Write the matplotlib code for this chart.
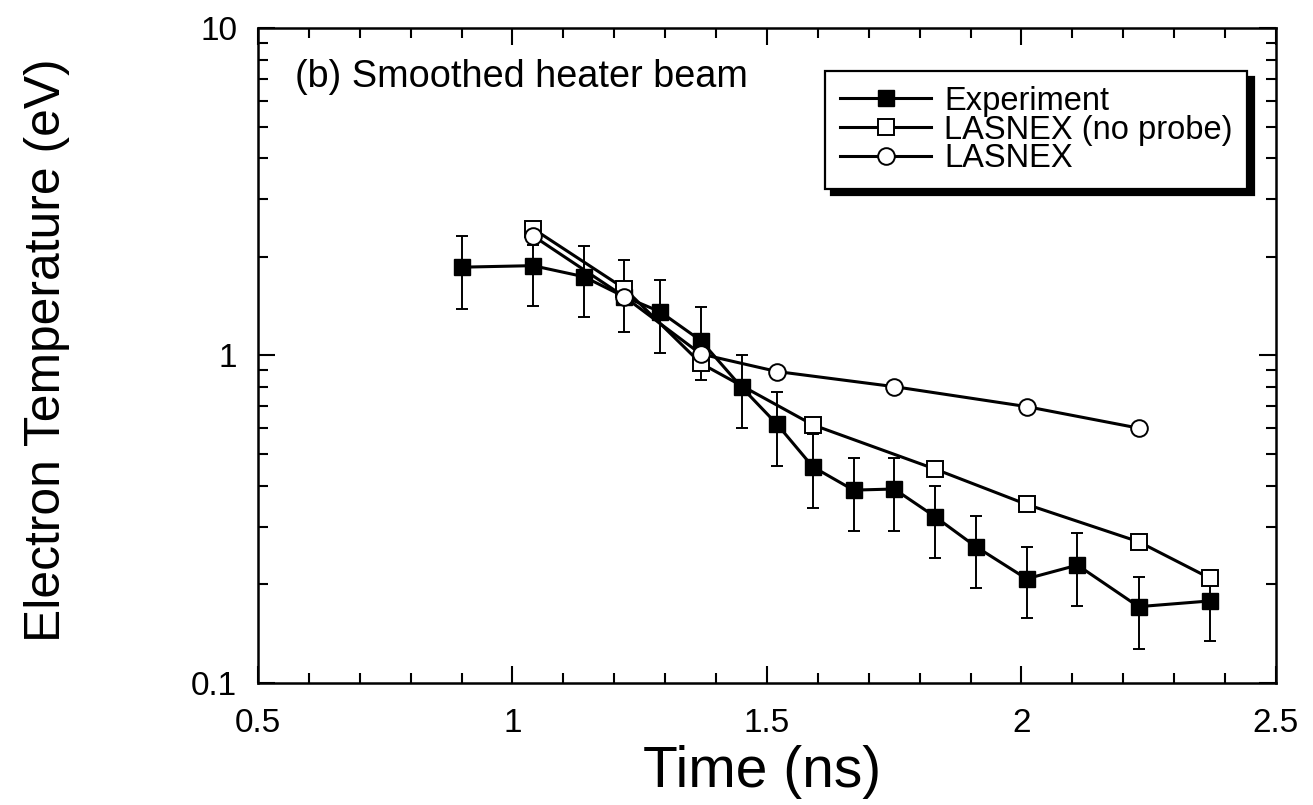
import matplotlib
matplotlib.use("Agg")
import matplotlib.pyplot as plt
from matplotlib.patches import Shadow
from matplotlib.ticker import FixedLocator, MultipleLocator, NullFormatter

plt.rcParams['font.family'] = ['Liberation Sans', 'DejaVu Sans']

# --- data ---
t_exp = [0.90, 1.04, 1.14, 1.22, 1.29, 1.37, 1.45, 1.52, 1.59, 1.67, 1.75,
         1.83, 1.91, 2.01, 2.11, 2.23, 2.37]
te_exp = [1.86, 1.88, 1.74, 1.51, 1.36, 1.11, 0.80, 0.616, 0.457, 0.388, 0.391,
          0.322, 0.261, 0.208, 0.229, 0.171, 0.178]
te_exp_hi = [2.32, 2.17, 2.16, 1.96, 1.70, 1.41, 1.00, 0.775, 0.574, 0.485, 0.487,
             0.400, 0.324, 0.261, 0.286, 0.210, 0.221]
te_exp_lo = [1.39, 1.42, 1.31, 1.18, 1.02, 0.84, 0.60, 0.46, 0.341, 0.291, 0.292,
             0.240, 0.195, 0.158, 0.172, 0.127, 0.134]

t_noprobe = [1.04, 1.22, 1.37, 1.59, 1.83, 2.01, 2.23, 2.37]
te_noprobe = [2.44, 1.60, 0.946, 0.614, 0.450, 0.351, 0.270, 0.209]

t_lasnex = [1.04, 1.22, 1.37, 1.52, 1.75, 2.01, 2.23]
te_lasnex = [2.32, 1.51, 1.01, 0.893, 0.803, 0.698, 0.600]

x_ticks = [0.5, 1.0, 1.5, 2.0, 2.5]
x_ticklabels = ['0.5', '1', '1.5', '2', '2.5']
y_ticks = [0.1, 1, 10]
y_ticklabels = ['0.1', '1', '10']

fig = plt.figure(figsize=(13.13, 8.05), dpi=100)
ax = fig.add_axes([0.1965, 0.1516, 0.7753, 0.8137])

# experiment: error bars plus filled squares
yerr = [[v - lo for v, lo in zip(te_exp, te_exp_lo)],
        [hi - v for v, hi in zip(te_exp, te_exp_hi)]]
ax.errorbar(t_exp, te_exp, yerr=yerr, fmt='none', ecolor='black',
            elinewidth=1.4, capsize=4.3, capthick=1.4, zorder=2)
ax.plot(t_exp, te_exp, '-', color='black', lw=2.2, marker='s', ms=11.5,
        mfc='black', mec='black', label='Experiment', zorder=3)
ax.plot(t_noprobe, te_noprobe, '-', color='black', lw=2.2, marker='s', ms=11,
        mfc='white', mec='black', mew=1.4, label='LASNEX (no probe)', zorder=4)
ax.plot(t_lasnex, te_lasnex, '-', color='black', lw=2.2, marker='o', ms=12,
        mfc='white', mec='black', mew=1.4, label='LASNEX', zorder=5)

ax.set_yscale('log')
ax.set_xlim(0.5, 2.5)
ax.set_ylim(0.1, 10)

ax.xaxis.set_major_locator(FixedLocator(x_ticks))
ax.set_xticklabels(x_ticklabels)
ax.xaxis.set_minor_locator(MultipleLocator(0.1))
ax.yaxis.set_major_locator(FixedLocator(y_ticks))
ax.set_yticklabels(y_ticklabels)
ax.yaxis.set_minor_locator(FixedLocator([m * d for d in (0.1, 1) for m in range(2, 10)]))
ax.yaxis.set_minor_formatter(NullFormatter())

ax.tick_params(which='both', direction='in', top=True, right=True, width=1.5,
               labelsize=24)
ax.tick_params(which='major', length=12)
ax.tick_params(which='minor', length=7)
ax.tick_params(axis='x', pad=18)
ax.tick_params(axis='y', pad=15)
for s in ax.spines.values():
    s.set_linewidth(1.8)

ax.set_xlabel('Time (ns)', fontsize=41)
ax.xaxis.set_label_coords(0.495, -0.094)
ax.set_ylabel('Electron Temperature (eV)', fontsize=35.8)
ax.yaxis.set_label_coords(-0.185, 0.508)

ax.text(0.036, 0.925, '(b) Smoothed heater beam', transform=ax.transAxes,
        fontsize=27.3, va='center', ha='left')

leg = ax.legend(loc='upper right', bbox_to_anchor=(0.972, 0.934), fontsize=23.5,
                frameon=True, fancybox=False, edgecolor='black', framealpha=1,
                handlelength=2.8, handletextpad=0.4, borderpad=0.45,
                labelspacing=-0.07, borderaxespad=0, numpoints=1)
leg.get_frame().set_linewidth(1.6)
leg.set_zorder(10)

fig.canvas.draw()
shadow = Shadow(leg.legendPatch, 4.5, -4.5, facecolor='black', edgecolor='black',
                alpha=1, zorder=9.9)
ax.add_artist(shadow)

fig.savefig('out.png', dpi=100)
